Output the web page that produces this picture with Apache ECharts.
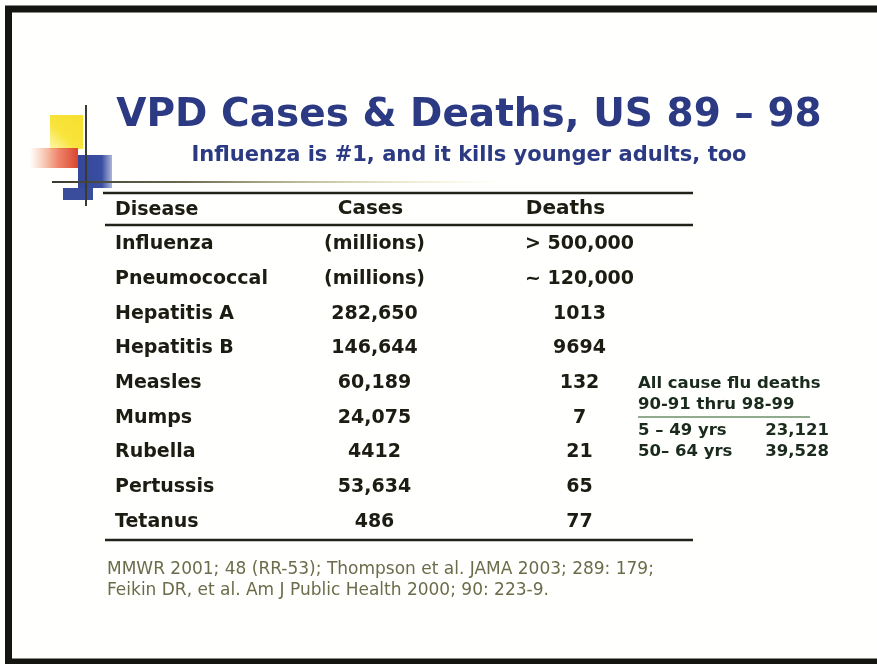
<!DOCTYPE html>
<html>
<head>
<meta charset="utf-8">
<script src="https://cdn.jsdelivr.net/npm/echarts@6/dist/echarts.min.js"></script>
<style>
  html, body { margin: 0; padding: 0; background: #fffffd; }
  #main { width: 877px; height: 664px; }
</style>
</head>
<body>
<div id="main"></div>
<script>
// table data
var diseases = ['Influenza', 'Pneumococcal', 'Hepatitis A', 'Hepatitis B', 'Measles', 'Mumps', 'Rubella', 'Pertussis', 'Tetanus'];
var casesText = ['(millions)', '(millions)', '282,650', '146,644', '60,189', '24,075', '4412', '53,634', '486'];
var deathsText = ['> 500,000', '~ 120,000', '1013', '9694', '132', '7', '21', '65', '77'];
var columns = ['Cases', 'Deaths'];

// side note
var noteTitle = 'All cause flu deaths';
var notePeriod = '90-91 thru 98-99';
var noteAges = ['5 \u2013 49 yrs', '50\u2013 64 yrs'];
var noteDeaths = ['23,121', '39,528'];

var sources = [
    'MMWR 2001; 48 (RR-53); Thompson et al. JAMA 2003; 289: 179;',
    'Feikin DR, et al. Am J Public Health 2000; 90: 223-9.'
];

var FONT = 'DejaVu Sans';
var INK = '#1c1c12';
var NAVY = '#2b3a82';
var NOTE = '#1a2a1c';

var myChart = echarts.init(document.getElementById('main'));

var graphics = [];
// slide frame
graphics.push({
    type: 'rect', shape: {x: 8.5, y: 9, width: 900, height: 653},
    style: {fill: null, stroke: '#141410', lineWidth: 7}, z: 10
});
// logo blocks
graphics.push({
    type: 'rect', shape: {x: 50, y: 115, width: 33, height: 34},
    style: {fill: new echarts.graphic.LinearGradient(0, 1, 1, 0, [
        {offset: 0, color: 'rgba(250,235,90,0.5)'},
        {offset: 0.4, color: '#f8e43c'},
        {offset: 1, color: '#f6e02e'}])}
});
graphics.push({
    type: 'rect', shape: {x: 30, y: 148, width: 48, height: 20},
    style: {fill: new echarts.graphic.LinearGradient(0, 0, 1, 0, [
        {offset: 0, color: 'rgba(240,120,60,0)'},
        {offset: 0.6, color: 'rgba(232,90,55,0.75)'},
        {offset: 1, color: '#d8452f'}])}
});
graphics.push({
    type: 'rect', shape: {x: 78, y: 155, width: 34, height: 33},
    style: {fill: new echarts.graphic.LinearGradient(0, 0, 1, 0, [
        {offset: 0, color: '#34479a'},
        {offset: 0.7, color: '#3a4ea2'},
        {offset: 1, color: 'rgba(70,90,170,0.45)'}])}
});
graphics.push({
    type: 'rect', shape: {x: 63, y: 188, width: 30, height: 12},
    style: {fill: '#3a4c9c'}
});
graphics.push({
    type: 'line', shape: {x1: 86, y1: 105, x2: 86, y2: 206},
    style: {stroke: '#3a3a30', lineWidth: 2}
});
graphics.push({
    type: 'line', shape: {x1: 52, y1: 182, x2: 500, y2: 182},
    style: {stroke: new echarts.graphic.LinearGradient(0, 0, 1, 0, [
        {offset: 0, color: '#3a3a30'},
        {offset: 0.3, color: '#6a6a50'},
        {offset: 1, color: 'rgba(230,220,120,0)'}]), lineWidth: 2}
});
// table rules
[193, 225, 540].forEach(function (y, k) {
    graphics.push({
        type: 'line', shape: {x1: k === 0 ? 103 : 105, y1: y, x2: 693, y2: y},
        style: {stroke: '#22221a', lineWidth: 2.5}
    });
});
graphics.push({
    type: 'text', left: 115, top: 201,
    style: {text: 'Disease', font: 'bold 19px "' + FONT + '"', fill: INK}
});
// side note
graphics.push({
    type: 'text', left: 638, top: 375,
    style: {text: noteTitle, font: 'bold 16.5px "' + FONT + '"', fill: NOTE}
});
graphics.push({
    type: 'text', left: 638, top: 396,
    style: {text: notePeriod, font: 'bold 16.5px "' + FONT + '"', fill: NOTE}
});
graphics.push({
    type: 'line', shape: {x1: 638, y1: 417, x2: 810, y2: 417},
    style: {stroke: '#6d8f6a', lineWidth: 1.5}
});
noteAges.forEach(function (a, i) {
    graphics.push({
        type: 'text', left: 638, top: 422 + i * 21,
        style: {text: a, font: 'bold 16.5px "' + FONT + '"', fill: NOTE}
    });
    graphics.push({
        type: 'text', right: 877 - 829, top: 422 + i * 21,
        style: {text: noteDeaths[i], font: 'bold 16.5px "' + FONT + '"', fill: NOTE}
    });
});
// sources
sources.forEach(function (s, i) {
    graphics.push({
        type: 'text', left: 107, top: 561 + i * 21,
        style: {text: s, font: '17px "' + FONT + '"', fill: '#6c6c4c'}
    });
});

var labelStyle = {fontFamily: FONT, fontWeight: 'bold', fontSize: 19, color: INK};

option = {
    backgroundColor: '#fffffd',
    animation: false,
    title: {
        text: 'VPD Cases & Deaths, US 89 \u2013 98',
        subtext: 'Influenza is #1, and it kills younger adults, too',
        left: 464,
        textAlign: 'center',
        top: 91,
        itemGap: 10,
        textStyle: {fontFamily: FONT, fontWeight: 'bold', fontSize: 39, color: NAVY},
        subtextStyle: {fontFamily: FONT, fontWeight: 'bold', fontSize: 21, color: NAVY}
    },
    grid: {left: 272, width: 410, top: 227, height: 312},
    xAxis: {
        type: 'category',
        data: columns,
        position: 'top',
        axisLine: {show: false},
        axisTick: {show: false},
        splitLine: {show: false},
        axisLabel: Object.assign({margin: 8}, labelStyle, {
            formatter: function (v) { return v === 'Deaths' ? '{d|' + v + '}' : '{c|' + v + '}'; },
            rich: {
                c: {fontFamily: FONT, fontWeight: 'bold', fontSize: 20, color: INK, padding: [0, 8, 0, 0]},
                d: {fontFamily: FONT, fontWeight: 'bold', fontSize: 20, color: INK, padding: [0, 28, 0, 0]}
            }
        })
    },
    yAxis: {
        type: 'category',
        data: diseases,
        inverse: true,
        axisLine: {show: false},
        axisTick: {show: false},
        splitLine: {show: false},
        axisLabel: Object.assign({margin: 157, align: 'left'}, labelStyle)
    },
    series: [
        {
            name: 'Cases',
            type: 'scatter',
            symbolSize: 0,
            itemStyle: {opacity: 1},
            data: diseases.map(function (d) { return ['Cases', d]; }),
            label: Object.assign({show: true, position: 'inside', formatter: function (p) { return casesText[p.dataIndex]; }}, labelStyle)
        },
        {
            name: 'Deaths',
            type: 'scatter',
            symbolSize: 0,
            itemStyle: {opacity: 1},
            data: diseases.map(function (d) { return ['Deaths', d]; }),
            label: Object.assign({show: true, position: 'inside', formatter: function (p) { return deathsText[p.dataIndex]; }}, labelStyle)
        }
    ],
    graphic: graphics
};
myChart.setOption(option);
</script>
</body>
</html>
